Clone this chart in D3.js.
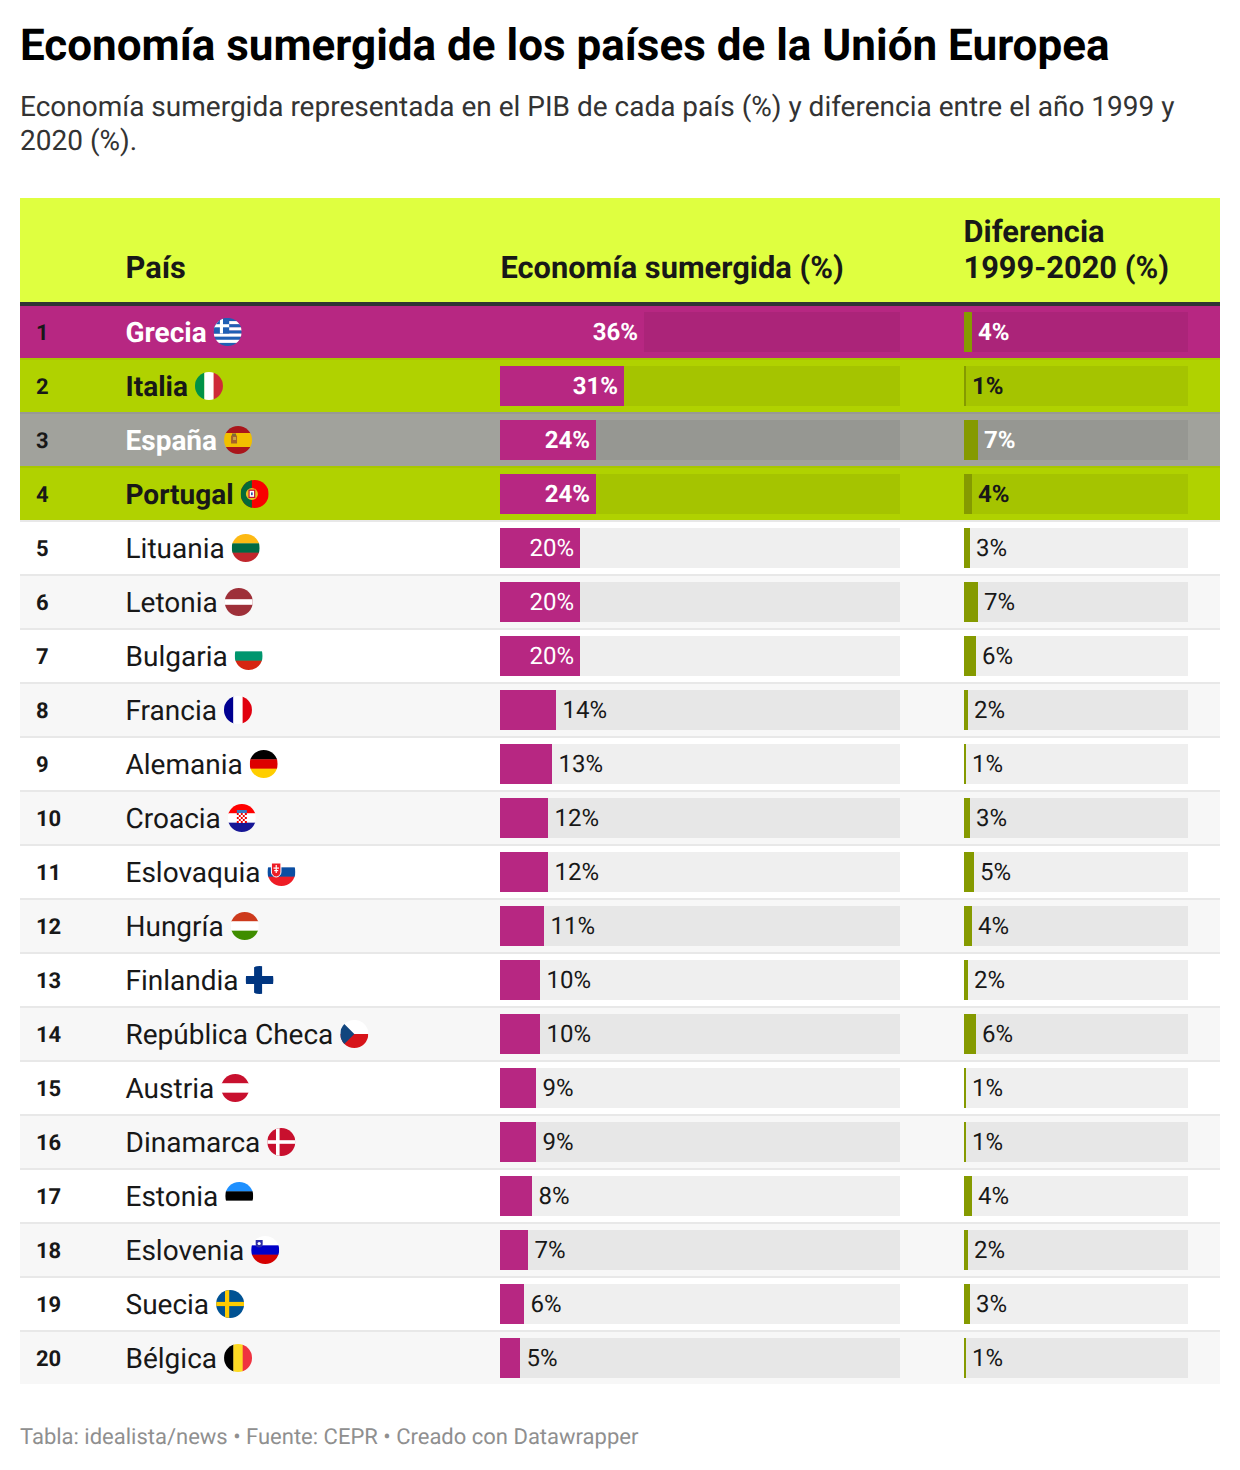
<!DOCTYPE html>
<html lang="es">
<head>
<meta charset="utf-8">
<title>Economía sumergida</title>
<script src="https://cdn.jsdelivr.net/npm/d3@7"></script>
<style>
  html, body { margin: 0; padding: 0; background: #fff; }
  svg { display: block; }
  text { font-family: Roboto, sans-serif; fill: #181818; text-rendering: geometricPrecision; }
</style>
</head>
<body>
<svg id="chart" width="1240" height="1470"></svg>
<script>
"use strict";

var countries = ["Grecia", "Italia", "España", "Portugal", "Lituania", "Letonia", "Bulgaria", "Francia", "Alemania", "Croacia",
  "Eslovaquia", "Hungría", "Finlandia", "República Checa", "Austria", "Dinamarca", "Estonia", "Eslovenia", "Suecia", "Bélgica"];
var shadow = [36, 31, 24, 24, 20, 20, 20, 14, 13, 12, 12, 11, 10, 10, 9, 9, 8, 7, 6, 5];
var diff = [4, 1, 7, 4, 3, 7, 6, 2, 1, 3, 5, 4, 2, 6, 1, 1, 4, 2, 3, 1];
var headers = ["País", "Economía sumergida (%)", "Diferencia", "1999-2020 (%)"];
var title = "Economía sumergida de los países de la Unión Europea";
var subtitle = ["Economía sumergida representada en el PIB de cada país (%) y diferencia entre el año 1999 y", "2020 (%)."];
var footer = "Tabla: idealista/news • Fuente: CEPR • Creado con Datawrapper";

var magenta = "#b72782", olive = "#859a00", lime = "#b0d200", grey = "#a1a29c", ink = "#181818";
// highlighted rows: background and text colour
var highlight = {
  "Grecia": { bg: magenta, text: "#fff" },
  "Italia": { bg: lime, text: ink },
  "España": { bg: grey, text: "#fff" },
  "Portugal": { bg: lime, text: ink }
};

var svg = d3.select("#chart");
var defs = svg.append("defs");

var rowTop = d3.scaleLinear().domain([0, 20]).range([304, 1384]);
var x1 = d3.scaleLinear().domain([0, 100]).range([500, 900]);
var x2 = d3.scaleLinear().domain([0, 112]).range([964, 1188]);

// title block
svg.append("text").attr("x", 20).attr("y", 60)
  .style("font-size", "44px").style("font-weight", 700).style("fill", "#000").text(title);
svg.selectAll("text.sub").data(subtitle).join("text").attr("class", "sub")
  .attr("x", 20).attr("y", function(d, i){ return 116 + i * 34; })
  .style("font-size", "28px").style("fill", "#333").text(function(d){ return d; });

// header
svg.append("rect").attr("x", 20).attr("y", 198).attr("width", 1200).attr("height", 104).attr("fill", "#dfff40");
var headerPos = [[125.5, 277.5], [500.5, 277.5], [963.5, 241.5], [963.5, 277.5]];
svg.selectAll("text.head").data(headers).join("text").attr("class", "head")
  .attr("x", function(d, i){ return headerPos[i][0]; })
  .attr("y", function(d, i){ return headerPos[i][1]; })
  .style("font-size", "30.8px").style("font-weight", 700).text(function(d){ return d; });

var rows = svg.selectAll("g.row").data(countries).join("g").attr("class", "row")
  .attr("transform", function(d, i){ return "translate(0," + rowTop(i) + ")"; });

rows.append("rect").attr("x", 20).attr("width", 1200).attr("height", 54)
  .attr("fill", function(d, i){
    if (highlight[d]) return highlight[d].bg;
    return i % 2 ? "#f7f7f7" : "#fff";
  });

// row separators
rows.filter(function(d, i){ return i > 0; }).append("rect")
  .attr("x", 20).attr("width", 1200).attr("height", 2)
  .attr("fill", function(d){ return highlight[d] ? "rgba(0,0,0,0.05)" : "#e8e8e8"; });

// bar tracks
[[x1, 100], [x2, 112]].forEach(function(t){
  rows.append("rect").attr("x", t[0](0)).attr("y", 8)
    .attr("width", t[0](t[1]) - t[0](0)).attr("height", 40)
    .attr("fill", "rgba(0,0,0,0.064)");
});

// bars
rows.append("rect").attr("x", x1(0)).attr("y", 8).attr("height", 40)
  .attr("width", function(d, i){ return x1(shadow[i]) - x1(0); }).attr("fill", magenta);
rows.append("rect").attr("x", x2(0)).attr("y", 8).attr("height", 40)
  .attr("width", function(d, i){ return x2(diff[i]) - x2(0); }).attr("fill", olive);

function weight(d){ return highlight[d] ? 700 : 400; }
function colour(d){ return highlight[d] ? highlight[d].text : ink; }

// rank
rows.append("text").attr("x", 36).attr("y", 36)
  .style("font-size", "22px").style("font-weight", 700)
  .text(function(d, i){ return i + 1; });

// value labels
rows.append("text")
  .attr("x", function(d, i){ return shadow[i] >= 20 ? x1(shadow[i]) - 6 : x1(shadow[i]) + 6.5; })
  .attr("y", 36).attr("text-anchor", function(d, i){ return shadow[i] >= 20 ? "end" : "start"; })
  .style("font-size", "24px").style("font-weight", weight)
  .style("fill", function(d, i){ return shadow[i] >= 20 ? "#fff" : ink; })
  .text(function(d, i){ return shadow[i] + "%"; });
rows.append("text")
  .attr("x", function(d, i){ return x2(diff[i]) + 6; }).attr("y", 36)
  .style("font-size", "24px").style("font-weight", weight).style("fill", colour)
  .text(function(d, i){ return diff[i] + "%"; });

// country name with round flag after it
var names = rows.append("text").attr("class", "name").attr("x", 125.5).attr("y", 38)
  .style("font-size", "28px").style("font-weight", weight).style("fill", colour)
  .text(function(d){ return d; });

var R = 14;
function hBands(g, colours) {
  var s = d3.scaleBand().domain(d3.range(colours.length)).range([-R, R]);
  colours.forEach(function(c, i){ g.append("rect").attr("x", -R).attr("y", s(i)).attr("width", 2 * R).attr("height", s.bandwidth() + 0.3).attr("fill", c); });
}
function vBands(g, colours) {
  var s = d3.scaleBand().domain(d3.range(colours.length)).range([-R, R]);
  colours.forEach(function(c, i){ g.append("rect").attr("x", s(i)).attr("y", -R).attr("width", s.bandwidth() + 0.3).attr("height", 2 * R).attr("fill", c); });
}
function box(g, x, y, w, h, c) {
  return g.append("rect").attr("x", x).attr("y", y).attr("width", w).attr("height", h).attr("fill", c);
}
function cross(g, bg, fg, cx, t) {
  box(g, -R, -R, 2 * R, 2 * R, bg);
  box(g, cx - t / 2, -R, t, 2 * R, fg);
  box(g, -R, -t / 2, 2 * R, t, fg);
}

var flags = {
  "Grecia": function(g){
    hBands(g, ["#1f5fb4", "#fff", "#1f5fb4", "#fff", "#1f5fb4", "#fff", "#1f5fb4", "#fff", "#1f5fb4"]);
    box(g, -R, -R, 15.5, 15.5, "#1f5fb4");
    box(g, -7.8, -R, 3.1, 15.5, "#fff");
    box(g, -R, -7.8, 15.5, 3.1, "#fff");
  },
  "Italia": function(g){ vBands(g, ["#009246", "#fff", "#ce2b37"]); },
  "España": function(g){
    hBands(g, ["#aa151b", "#f1bf00", "#f1bf00", "#aa151b"]);
    box(g, -7, -4.5, 6, 8, "#a5622a");
    box(g, -6, -6.5, 4, 2.5, "#7d6a3a");
    box(g, -5, -3, 3, 3, "#c8a24a");
  },
  "Portugal": function(g){
    box(g, -R, -R, 2 * R, 2 * R, "#f80000");
    box(g, -R, -R, 11.2, 2 * R, "#046a38");
    g.append("circle").attr("cx", -2.8).attr("r", 6).attr("fill", "#e8c020");
    box(g, -5.6, -3.8, 5.6, 7.2, "#fff").attr("stroke", "#c8102e").attr("stroke-width", 1.2);
    box(g, -3.6, -1.6, 1.6, 2.8, "#2a4aa0");
  },
  "Lituania": function(g){ hBands(g, ["#fdb913", "#006a44", "#c1272d"]); },
  "Letonia": function(g){
    box(g, -R, -R, 2 * R, 2 * R, "#9e3039");
    box(g, -R, -2.8, 2 * R, 5.6, "#fff");
  },
  "Bulgaria": function(g){ hBands(g, ["#fff", "#00966e", "#d62612"]); },
  "Francia": function(g){ vBands(g, ["#000091", "#fff", "#e1000f"]); },
  "Alemania": function(g){ hBands(g, ["#000", "#dd0000", "#ffce00"]); },
  "Croacia": function(g){
    hBands(g, ["#f00", "#fff", "#171796"]);
    d3.range(5).forEach(function(r){
      d3.range(5).forEach(function(c){
        box(g, -5 + c * 2, -5 + r * 2, 2, 2, (r + c) % 2 ? "#fff" : "#e00");
      });
    });
    box(g, -5, -8, 10, 3, "#3a7ac0");
  },
  "Eslovaquia": function(g){
    hBands(g, ["#fff", "#0b4ea2", "#ee1c25"]);
    g.append("path").attr("d", "M-10-9H-0.5V0A5 5 0 0 1-5.2 5A5 5 0 0 1-10 0Z").attr("fill", "#ee1c25").attr("stroke", "#fff");
    box(g, -5.8, -7, 1.2, 8, "#fff");
    box(g, -8, -4.5, 5.6, 1.2, "#fff");
    box(g, -7.2, -2, 4, 1.2, "#fff");
  },
  "Hungría": function(g){ hBands(g, ["#cd3a1c", "#fff", "#3f8d00"]); },
  "Finlandia": function(g){ cross(g, "#fff", "#003580", -1.5, 8); },
  "República Checa": function(g){
    hBands(g, ["#fff", "#d7141a"]);
    g.append("path").attr("d", "M-14-14L0 0L-14 14Z").attr("fill", "#11457e");
  },
  "Austria": function(g){ hBands(g, ["#c8102e", "#fff", "#c8102e"]); },
  "Dinamarca": function(g){ cross(g, "#c8102e", "#fff", -3.5, 3.6); },
  "Estonia": function(g){ hBands(g, ["#1e90ff", "#000", "#fff"]); },
  "Eslovenia": function(g){
    hBands(g, ["#fff", "#0000c8", "#d50000"]);
    g.append("path").attr("d", "M-9.5-10H-2.5V-6A3.5 3.5 0 0 1-9.5-6Z").attr("fill", "#2b2ba8");
    g.append("circle").attr("cx", -6).attr("cy", -6.5).attr("r", 1.6).attr("fill", "#fff");
  },
  "Suecia": function(g){ cross(g, "#005293", "#fecb00", -3, 4.2); },
  "Bélgica": function(g){ vBands(g, ["#000", "#fdda24", "#ef3340"]); }
};

defs.append("clipPath").attr("id", "flag-clip").append("circle").attr("r", R);

names.each(function(d){
  var end = 125.5 + this.getComputedTextLength();
  var g = d3.select(this.parentNode).append("g")
    .attr("transform", "translate(" + (end + 7 + R) + ",28)")
    .attr("clip-path", "url(#flag-clip)");
  flags[d](g);
});

// table head rule
svg.append("rect").attr("x", 20).attr("y", 302).attr("width", 1200).attr("height", 4).attr("fill", "#333");

svg.append("text").attr("x", 20).attr("y", 1444)
  .style("font-size", "22px").style("fill", "#8f8f8f").text(footer);
</script>
</body>
</html>
